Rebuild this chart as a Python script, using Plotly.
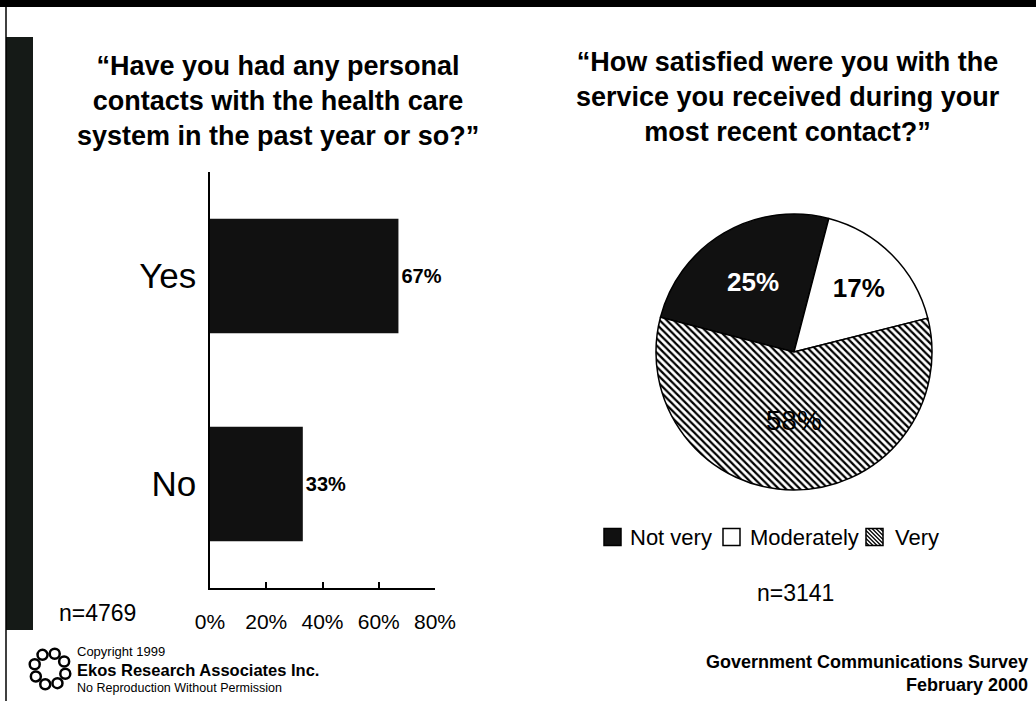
import math
import plotly.graph_objects as go

W, H = 1036, 701

# Left panel: personal contacts with the health care system
contact_labels = ["Yes", "No"]
contact_pct = [67, 33]
contact_n = "n=4769"
x_ticks = [0, 20, 40, 60, 80]
x_tick_text = ["0%", "20%", "40%", "60%", "80%"]

# Right panel: satisfaction with most recent contact
satisfaction_labels = ["Not very", "Moderately", "Very"]
satisfaction_pct = [25, 17, 58]
satisfaction_n = "n=3141"

title_left = "\u201cHave you had any personal<br>contacts with the health care<br>system in the past year or so?\u201d"
title_right = "\u201cHow satisfied were you with the<br>service you received during your<br>most recent contact?\u201d"

NARROW = "Liberation Sans Narrow, Arial Narrow, Liberation Sans, Arial, sans-serif"
SANS = "Liberation Sans, Arial, sans-serif"
INK = "#111111"


def px_x(p):
    return p / W


def px_y(p):
    return 1 - p / H


fig = go.Figure()

fig.add_trace(go.Bar(
    x=contact_pct,
    y=contact_labels,
    orientation="h",
    marker=dict(color=INK, line=dict(width=0)),
    width=0.55,
    text=[f"{v}%" for v in contact_pct],
    textposition="outside",
    textfont=dict(family=SANS, size=20, color="black", weight="bold"),
    cliponaxis=False,
    showlegend=False,
    xaxis="x", yaxis="y",
))

fig.add_trace(go.Pie(
    labels=satisfaction_labels,
    values=satisfaction_pct,
    sort=False,
    direction="clockwise",
    rotation=-75.4,
    marker=dict(
        colors=[INK, "white", "white"],
        line=dict(color="black", width=1.5),
        pattern=dict(
            shape=["", "", "\\"],
            fgcolor="black",
            bgcolor="white",
            size=5,
            solidity=0.45,
        ),
    ),
    texttemplate="%{value}%",
    textposition="inside",
    insidetextorientation="horizontal",
    insidetextfont=dict(
        family=SANS,
        size=[26, 26, 28],
        color=["white", "black", "black"],
        weight=["bold", "bold", "normal"],
    ),
    domain=dict(x=[px_x(656), px_x(932)], y=[px_y(490), px_y(214)]),
    showlegend=False,
    hoverinfo="label+percent",
))

shapes = [
    # black band across the top
    dict(type="rect", xref="paper", yref="paper", x0=0, x1=1,
         y0=px_y(7), y1=1, fillcolor="black", line=dict(width=0), layer="below"),
    # dark strip on the left edge
    dict(type="rect", xref="paper", yref="paper", x0=px_x(6), x1=px_x(33),
         y0=px_y(630), y1=px_y(37), fillcolor="#151a17", line=dict(width=0), layer="below"),
    # thin rule running down the left edge
    dict(type="line", xref="paper", yref="paper", x0=px_x(6), x1=px_x(6),
         y0=0, y1=1, line=dict(color="black", width=1.5)),
]

annotations = []

# legend row under the pie: swatch + label for each slice
legend_y = 537
swatch_x = [604, 723, 866]
label_x = [628, 748, 893]
swatch = 17
for i, lab in enumerate(satisfaction_labels):
    x0 = swatch_x[i]
    fill = INK if i == 0 else "white"
    shapes.append(dict(
        type="rect", xref="paper", yref="paper",
        x0=px_x(x0), x1=px_x(x0 + swatch),
        y0=px_y(legend_y + swatch / 2), y1=px_y(legend_y - swatch / 2),
        fillcolor=fill, line=dict(color="black", width=1.5),
    ))
    if i == 2:
        # diagonal hatching inside the swatch
        top = legend_y - swatch / 2
        for off in range(-swatch + 3, swatch, 4):
            xa, ya = x0 + max(off, 0), top + max(-off, 0)
            xb, yb = x0 + min(swatch, swatch + off), top + min(swatch, swatch - off)
            shapes.append(dict(
                type="line", xref="paper", yref="paper",
                x0=px_x(xa), y0=px_y(ya), x1=px_x(xb), y1=px_y(yb),
                line=dict(color="black", width=1.2),
            ))
    annotations.append(dict(
        text=lab, x=px_x(label_x[i]), y=px_y(legend_y), xref="paper", yref="paper",
        showarrow=False, font=dict(family=NARROW, size=22, color="black"),
        xanchor="left", yanchor="middle",
    ))

# company logo: a ring of small curls
cx, cy, rr = 50, 669, 16
for k in range(8):
    a = 2 * math.pi * k / 8 + 0.3
    ex, ey = cx + rr * math.cos(a), cy + rr * math.sin(a)
    shapes.append(dict(
        type="circle", xref="paper", yref="paper",
        x0=px_x(ex - 5), x1=px_x(ex + 5), y0=px_y(ey + 5), y1=px_y(ey - 5),
        line=dict(color="black", width=2.5), fillcolor="rgba(0,0,0,0)",
    ))

annotations += [
    dict(text=title_left, x=px_x(278), y=px_y(101), xref="paper", yref="paper",
         showarrow=False, font=dict(family=SANS, size=27, color="black", weight="bold"),
         xanchor="center", yanchor="middle", align="center"),
    dict(text=title_right, x=px_x(788), y=px_y(97), xref="paper", yref="paper",
         showarrow=False, font=dict(family=SANS, size=27, color="black", weight="bold"),
         xanchor="center", yanchor="middle", align="center"),
    dict(text=contact_n, x=px_x(97), y=px_y(613), xref="paper", yref="paper",
         showarrow=False, font=dict(family=NARROW, size=23, color="black"),
         xanchor="center", yanchor="middle"),
    dict(text=satisfaction_n, x=px_x(795), y=px_y(593), xref="paper", yref="paper",
         showarrow=False, font=dict(family=NARROW, size=23, color="black"),
         xanchor="center", yanchor="middle"),
    dict(text="Copyright 1999", x=px_x(75), y=px_y(651), xref="paper", yref="paper",
         showarrow=False, font=dict(family=NARROW, size=13, color="black"),
         xanchor="left", yanchor="middle"),
    dict(text="Ekos Research Associates Inc.", x=px_x(75), y=px_y(670), xref="paper", yref="paper",
         showarrow=False, font=dict(family=SANS, size=16.5, color="black", weight="bold"),
         xanchor="left", yanchor="middle"),
    dict(text="No Reproduction Without Permission", x=px_x(75), y=px_y(688), xref="paper", yref="paper",
         showarrow=False, font=dict(family=SANS, size=12.5, color="black"),
         xanchor="left", yanchor="middle"),
    dict(text="Government Communications Survey", x=px_x(1030), y=px_y(662), xref="paper", yref="paper",
         showarrow=False, font=dict(family=SANS, size=18, color="black", weight="bold"),
         xanchor="right", yanchor="middle"),
    dict(text="February 2000", x=px_x(1030), y=px_y(685), xref="paper", yref="paper",
         showarrow=False, font=dict(family=SANS, size=18, color="black", weight="bold"),
         xanchor="right", yanchor="middle"),
]

fig.update_layout(
    width=W, height=H,
    margin=dict(l=0, r=0, t=0, b=0, pad=0, autoexpand=False),
    paper_bgcolor="white",
    plot_bgcolor="rgba(0,0,0,0)",
    font=dict(family=NARROW, color="black"),
    showlegend=False,
    xaxis=dict(
        domain=[px_x(210), px_x(435)],
        range=[0, 80],
        tickvals=x_ticks,
        ticktext=x_tick_text,
        ticks="inside", ticklen=6, tickwidth=1.5, tickcolor="black",
        showline=True, linecolor="black", linewidth=1.5,
        showgrid=False, zeroline=False,
        tickfont=dict(family=NARROW, size=21, color="black"),
        ticklabelstandoff=14,
        automargin=False,
        fixedrange=True,
    ),
    yaxis=dict(
        domain=[px_y(588), px_y(172)],
        range=[1.5, -0.5],
        type="category",
        showline=True, linecolor="black", linewidth=1.5,
        ticks="", showgrid=False, zeroline=False,
        tickfont=dict(family=NARROW, size=35, color="black"),
        ticklabelstandoff=5,
        automargin=False,
        fixedrange=True,
    ),
    shapes=shapes,
    annotations=annotations,
)

fig.write_html("out.html")
